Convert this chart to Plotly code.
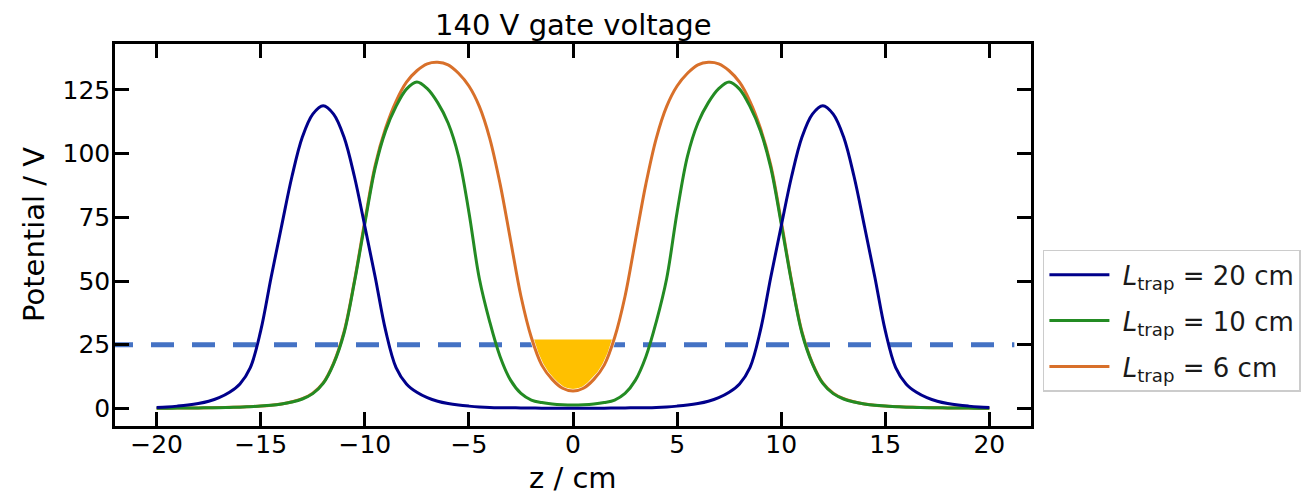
import plotly.graph_objects as go

# ---------------- data ----------------
z_cm = [i * 0.5 for i in range(-40, 41)]  # -20 ... 20 cm, 0.5 cm steps

pot_20cm = [0.4, 0.6, 0.9, 1.3, 1.9, 2.8, 4.2, 6.3, 9.6, 16, 30.5, 51.5, 71.5, 91, 106.5, 115.5,
            118.8, 115.5, 106.5, 91, 71.5, 51.5, 30.5, 16, 9.6, 6.3, 4.2, 2.8, 1.9, 1.3, 0.9, 0.6,
            0.4, 0.3, 0.25, 0.2, 0.15, 0.1, 0.1, 0.1,
            0.1,
            0.1, 0.1, 0.1, 0.15, 0.2, 0.25, 0.3, 0.4, 0.6, 0.9, 1.3, 1.9, 2.8, 4.2, 6.3, 9.6,
            16, 30.5, 51.5, 71.5, 91, 106.5, 115.5, 118.8, 115.5, 106.5, 91, 71.5, 51.5, 30.5, 16,
            9.6, 6.3, 4.2, 2.8, 1.9, 1.3, 0.9, 0.6, 0.4]

pot_10cm = [0.1, 0.1, 0.12, 0.15, 0.2, 0.25, 0.3, 0.4, 0.5, 0.7, 0.9, 1.2, 1.7, 2.5, 3.7, 5.8,
            9.8, 17.5, 29.5, 49.5, 72.5, 94.5, 109, 118.5, 125.3, 128.1, 125.5, 120, 112, 99, 77,
            51, 34, 20.3, 11.1, 5.9, 3.3, 2.3, 1.7, 1.4,
            1.3,
            1.4, 1.7, 2.3, 3.3, 5.9, 11.1, 20.3, 34, 51, 77, 99, 112, 120, 125.5, 128.1, 125.3,
            118.5, 109, 94.5, 72.5, 49.5, 29.5, 17.5, 9.8, 5.8, 3.7, 2.5, 1.7, 1.2, 0.9, 0.7, 0.5,
            0.4, 0.3, 0.25, 0.2, 0.15, 0.12, 0.1, 0.1]

pot_6cm = [0.1, 0.11, 0.13, 0.16, 0.21, 0.26, 0.32, 0.42, 0.52, 0.72, 0.93, 1.25, 1.75, 2.6, 3.8,
           6, 10, 17.8, 30, 50, 73.5, 95.5, 110, 120.5, 128, 132.5, 135.2, 135.8, 134.8, 131.5,
           126.5, 118.5, 106, 88, 66, 44, 27.8, 17, 11.4, 7.9,
           6.8,
           7.9, 11.4, 17, 27.8, 44, 66, 88, 106, 118.5, 126.5, 131.5, 134.8, 135.8, 135.2, 132.5,
           128, 120.5, 110, 95.5, 73.5, 50, 30, 17.8, 10, 6, 3.8, 2.6, 1.75, 1.25, 0.93, 0.72,
           0.52, 0.42, 0.32, 0.26, 0.21, 0.16, 0.13, 0.11, 0.1]

# filled well of the 6 cm trap
well_z = [-2, -1.75, -1.5, -1.25, -1, -0.75, -0.5, -0.25, 0, 0.25, 0.5, 0.75, 1, 1.25, 1.5, 1.75, 2]
well_floor = [27.8, 21.5, 17, 13.8, 11.4, 9.4, 7.9, 7.1, 6.8, 7.1, 7.9, 9.4, 11.4, 13.8, 17, 21.5, 27.8]
well_level = 27.8

# horizontal reference level
ref_z = [-22.24, 21.2]
ref_v = [25, 25]

x_ticks = [-20, -15, -10, -5, 0, 5, 10, 15, 20]
y_ticks = [0, 25, 50, 75, 100, 125]

labels = ["\u00a0<i>L</i><sub>trap</sub> = 20 cm",
          "\u00a0<i>L</i><sub>trap</sub> = 10 cm",
          "\u00a0<i>L</i><sub>trap</sub> = 6 cm"]

assert len(z_cm) == len(pot_20cm) == len(pot_10cm) == len(pot_6cm) == 81

# ---------------- figure ----------------
FONT = "DejaVu Sans"
fig = go.Figure()

fig.add_trace(go.Scatter(x=ref_z, y=ref_v, mode="lines", showlegend=False,
                         line=dict(color="#4472C4", width=5, dash="23px,18px"),
                         hoverinfo="skip"))

poly_x = well_z + well_z[::-1]
poly_y = [well_level] * len(well_z) + well_floor[::-1]
fig.add_trace(go.Scatter(x=poly_x, y=poly_y, mode="lines", fill="toself",
                         fillcolor="#FFC000", line=dict(color="white", width=4),
                         showlegend=False, hoverinfo="skip"))

fig.add_trace(go.Scatter(x=z_cm, y=pot_6cm, mode="lines", name=labels[2],
                         line=dict(color="#D8702A", width=3, shape="spline", smoothing=1),
                         legendrank=3, legendgroup="c"))
fig.add_trace(go.Scatter(x=z_cm, y=pot_10cm, mode="lines", name=labels[1],
                         line=dict(color="#238B23", width=3, shape="spline", smoothing=1),
                         legendrank=2, legendgroup="b"))
fig.add_trace(go.Scatter(x=z_cm, y=pot_20cm, mode="lines", name=labels[0],
                         line=dict(color="#00008B", width=3, shape="spline", smoothing=1),
                         legendrank=1, legendgroup="a"))

axis_common = dict(showline=True, linewidth=2.5, linecolor="black", mirror="allticks",
                   ticks="inside", ticklen=14, tickwidth=2.5, tickcolor="black",
                   showgrid=False, zeroline=False,
                   tickfont=dict(family=FONT, size=25, color="black"))

# the page body adds an 8 px offset, so the figure is 8 px smaller on each side
fig.update_layout(
    width=1303, height=490,
    margin=dict(l=107, r=280, t=36, b=72, autoexpand=False),
    plot_bgcolor="white", paper_bgcolor="white",
    font=dict(family=FONT, color="black"),
    xaxis=dict(range=[-22, 22], tickvals=x_ticks, ticklabelstandoff=-6, **axis_common),
    yaxis=dict(range=[-6.9, 143], tickvals=y_ticks, ticklabelstandoff=-3, **axis_common),
    legend=dict(x=1.013, y=0.461, xanchor="left", yanchor="top",
                bordercolor="#cccccc", borderwidth=1.5, bgcolor="white",
                font=dict(family=FONT, size=26, color="#1a1a1a"),
                tracegroupgap=9, traceorder="grouped", itemwidth=60),
    showlegend=True,
    annotations=[
        dict(text="140 V gate voltage", xref="paper", yref="paper", x=0.5, y=1,
             xanchor="center", yanchor="middle", yshift=19, showarrow=False,
             font=dict(family=FONT, size=29, color="black")),
        dict(text="z / cm", xref="paper", yref="paper", x=0.5, y=0,
             xanchor="center", yanchor="middle", yshift=-52, showarrow=False,
             font=dict(family=FONT, size=29, color="black")),
        dict(text="Potential / V", xref="paper", yref="paper", x=0, y=0.5,
             xanchor="center", yanchor="middle", xshift=-81, textangle=-90, showarrow=False,
             font=dict(family=FONT, size=29, color="black")),
    ],
)

fig.write_html("out.html")
